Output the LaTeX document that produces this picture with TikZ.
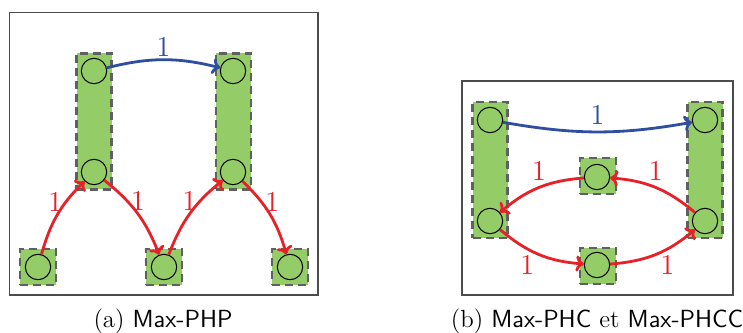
\documentclass[tikz,border=0pt]{standalone}
\usepackage{xcolor}
\usetikzlibrary{calc,arrows.meta}
\definecolor{grpgreen}{RGB}{148,204,104}
\definecolor{edgeblue}{RGB}{46,78,160}
\definecolor{edgered}{RGB}{232,32,40}

\begin{document}
\begin{tikzpicture}[x=0.5pt,y=0.5pt,
  grp/.style={draw=gray!75!black, fill=grpgreen, dashed, dash pattern=on 4pt off 2.5pt, line width=1.4pt, inner sep=0pt},
  sq/.style={grp, minimum width=18pt, minimum height=18pt},
  bar/.style={grp, minimum width=17.5pt, minimum height=68pt},
  vtx/.style={circle, draw=black, fill=grpgreen, line width=0.5pt, minimum size=12.7pt, inner sep=0pt},
  blueedge/.style={edgeblue, line width=1.4pt, -{To[length=4pt,width=8pt]}},
  rededge/.style={edgered, line width=1.4pt, -{To[length=4pt,width=8pt]}},
  lbl/.style={font=\fontsize{14.5}{16}\selectfont, inner sep=1pt},
  frame/.style={draw=gray!60!black, line width=0.6pt}]
\useasboundingbox (0,0) rectangle (743,332);

% (a)
\draw[frame] (9.5,37) rectangle (318,319.5);
\node[bar] (barA1) at (94,210.5) {};
\node[bar] (barA2) at (233.5,210.5) {};
\node[sq] (sqA1) at (38,65) {};
\node[sq] (sqA2) at (164,65) {};
\node[sq] (sqA3) at (290,65) {};
\node[vtx] (a1t) at (94,261) {};
\node[vtx] (a1b) at (94,160) {};
\node[vtx] (a2t) at (233,261) {};
\node[vtx] (a2b) at (233,160) {};
\node[vtx] (s1) at (38,65) {};
\node[vtx] (s2) at (164,65) {};
\node[vtx] (s3) at (290,65) {};
\draw[blueedge] (a1t) to[bend left=14] node[lbl, above, text=edgeblue] {$1$} (a2t);
\draw[rededge] (s1) to[bend left=15] node[lbl, left, text=edgered, pos=0.68] {$1$} (a1b);
\draw[rededge] (a1b) to[bend left=15] node[lbl, right, text=edgered, pos=0.32] {$1$} (s2);
\draw[rededge] (s2) to[bend left=15] node[lbl, left, text=edgered, pos=0.68] {$1$} (a2b);
\draw[rededge] (a2b) to[bend left=15] node[lbl, right, text=edgered, pos=0.32] {$1$} (s3);
\node[font=\fontsize{12.4}{14}\selectfont] (capA) at (163,11) {(a) \textsf{Max-PHP}};

% (b)
\draw[frame] (462,37) rectangle (733,251);
\node[bar] (barB1) at (490,162) {};
\node[bar] (barB2) at (705,162) {};
\node[sq] (sqB1) at (598,156) {};
\node[sq] (sqB2) at (598,66) {};
\node[vtx] (lt) at (490,212) {};
\node[vtx] (lb) at (490,111) {};
\node[vtx] (rt) at (705,212) {};
\node[vtx] (rb) at (705,111) {};
\node[vtx] (mt) at (597,155) {};
\node[vtx] (mb) at (597,67) {};
\draw[blueedge] (lt) to[bend right=10] node[lbl, above=2pt, text=edgeblue] {$1$} (rt);
\draw[rededge] (mt) to[bend right=18] node[lbl, above=2pt, text=edgered] {$1$} (lb);
\draw[rededge] (rb) to[bend right=18] node[lbl, above=2pt, text=edgered] {$1$} (mt);
\draw[rededge] (lb) to[bend right=18] node[lbl, below=2pt, text=edgered, pos=0.35] {$1$} (mb);
\draw[rededge] (mb) to[bend right=18] node[lbl, below=2pt, text=edgered, pos=0.65] {$1$} (rb);
\node[font=\fontsize{12.4}{14}\selectfont] (capB) at (597,11) {(b) \textsf{Max-PHC} et \textsf{Max-PHCC}};
\end{tikzpicture}
\end{document}
